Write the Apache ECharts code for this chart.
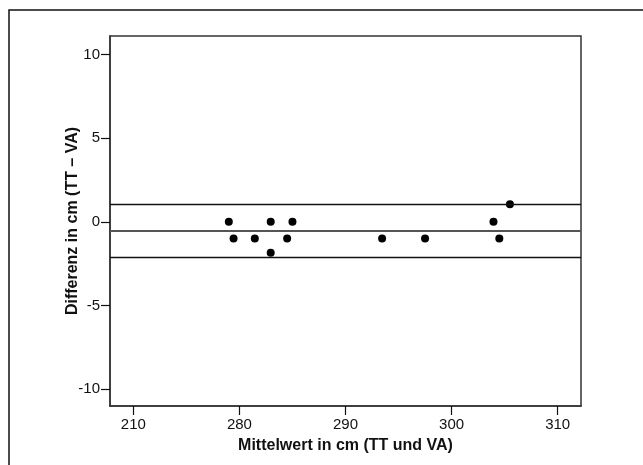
<!DOCTYPE html>
<html>
<head>
<meta charset="utf-8">
<script src="https://cdn.jsdelivr.net/npm/echarts@6/dist/echarts.min.js"></script>
<style>
  html, body { margin: 0; padding: 0; background: #fff; }
  #main { width: 643px; height: 465px; }
</style>
</head>
<body>
<div id="main"></div>
<script>
// Mittelwert (x) und Differenz (y) der Messpaare
var meanValues = [279.0, 279.45, 281.45, 282.95, 282.95, 285.0, 284.5, 293.45, 297.5, 303.95, 304.5, 305.5];
var diffValues = [0, -1, -1, 0, -1.85, 0, -1, -1, -1, 0, -1, 1.05];

// Mittlere Differenz und Übereinstimmungsgrenzen
var upperLimit = 1.05;
var meanDiff = -0.52;
var lowerLimit = -2.1;

// Achsenbeschriftungen (x-Achse unterbrochen: erster Tick steht für 210)
var xTickValues = [270, 280, 290, 300, 310];
var xTickLabels = ['210', '280', '290', '300', '310'];
var yTickValues = [-10, -5, 0, 5, 10];

var points = [];
for (var i = 0; i < meanValues.length; i++) {
    points.push([meanValues[i], diffValues[i]]);
}

var myChart = echarts.init(document.getElementById('main'));

var fontFam = '"Liberation Sans", Arial, sans-serif';

var option = {
    backgroundColor: '#fff',
    animation: false,
    graphic: [{
        type: 'rect',
        shape: { x: 9, y: 10, width: 700, height: 500 },
        style: { fill: 'none', stroke: '#111', lineWidth: 1.5 },
        silent: true
    }],
    grid: {
        left: 110,
        top: 36,
        right: 62,
        bottom: 59,
        show: true,
        borderColor: '#333',
        borderWidth: 1.5,
        backgroundColor: 'transparent'
    },
    xAxis: {
        type: 'value',
        min: 267.8,
        max: 312.2,
        name: 'Mittelwert in cm (TT und VA)',
        nameLocation: 'middle',
        nameGap: 32,
        nameMoveOverlap: false,
        nameTextStyle: { fontFamily: fontFam, fontWeight: 'bold', fontSize: 16, color: '#111' },
        axisLine: { show: true, onZero: false, lineStyle: { color: '#333', width: 1.5 } },
        axisTick: { show: true, inside: false, length: 9, customValues: xTickValues, lineStyle: { color: '#111', width: 1.2 } },
        axisLabel: {
            customValues: xTickValues,
            margin: 11,
            fontFamily: fontFam,
            fontSize: 15,
            color: '#111',
            formatter: function (v) {
                var idx = xTickValues.indexOf(Math.round(v));
                return idx >= 0 ? xTickLabels[idx] : '';
            }
        },
        splitLine: { show: false }
    },
    yAxis: {
        type: 'value',
        min: -11,
        max: 11.1,
        name: 'Differenz in cm (TT \u2013 VA)',
        nameLocation: 'middle',
        nameGap: 29,
        nameMoveOverlap: false,
        nameTextStyle: { fontFamily: fontFam, fontWeight: 'bold', fontSize: 16, color: '#111' },
        axisLine: { show: true, onZero: false, lineStyle: { color: '#333', width: 1.5 } },
        axisTick: { show: true, inside: false, length: 9, customValues: yTickValues, lineStyle: { color: '#111', width: 1.2 } },
        axisLabel: {
            customValues: yTickValues,
            margin: 10,
            fontFamily: fontFam,
            fontSize: 15,
            color: '#111'
        },
        splitLine: { show: false }
    },
    series: [{
        type: 'scatter',
        data: points,
        symbol: 'circle',
        symbolSize: 8,
        itemStyle: { color: '#000', opacity: 1 },
        markLine: {
            silent: true,
            symbol: 'none',
            label: { show: false },
            data: [
                { yAxis: upperLimit, lineStyle: { color: '#111', type: 'solid', width: 1.3 } },
                { yAxis: meanDiff, lineStyle: { color: '#555', type: 'solid', width: 2 } },
                { yAxis: lowerLimit, lineStyle: { color: '#111', type: 'solid', width: 1.3 } }
            ]
        }
    }]
};

myChart.setOption(option);
</script>
</body>
</html>
